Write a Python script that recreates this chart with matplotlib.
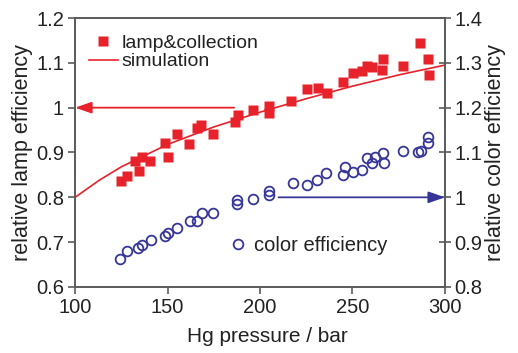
import matplotlib
matplotlib.use("Agg")
from matplotlib import pyplot as plt
from matplotlib.ticker import FuncFormatter

plt.rcParams['font.family'] = ['Liberation Sans', 'DejaVu Sans']

# lamp & collection efficiency (left axis)
lamp_x = [124.7, 127.9, 132.4, 134.8, 136.0, 140.5, 148.6, 150.1, 155.0, 161.8,
          165.8, 168.0, 174.4, 186.5, 188.3, 196.4, 205.0, 205.0, 217.0, 225.4,
          231.5, 236.0, 244.7, 250.5, 255.0, 257.7, 260.4, 265.8, 266.7, 277.1,
          286.5, 290.6, 291.4]
lamp_y = [0.837, 0.848, 0.880, 0.859, 0.891, 0.881, 0.922, 0.891, 0.941, 0.919,
          0.954, 0.962, 0.941, 0.969, 0.984, 0.995, 1.004, 0.989, 1.014, 1.041,
          1.043, 1.032, 1.058, 1.077, 1.081, 1.092, 1.090, 1.084, 1.108, 1.093,
          1.145, 1.108, 1.073]

# simulation curve (left axis)
sim_x = [100, 113, 125, 150, 175, 200, 225, 250, 275, 300]
sim_y = [0.800, 0.838, 0.868, 0.918, 0.957, 0.990, 1.020, 1.048, 1.073, 1.095]

# color efficiency (right axis)
color_x = [124.3, 128.3, 134.2, 136.0, 141.0, 148.6, 150.4, 155.3, 162.2, 165.8,
           168.5, 174.8, 187.4, 187.4, 196.4, 205.0, 205.0, 218.0, 225.2, 231.0,
           235.7, 245.0, 246.0, 250.5, 255.0, 257.7, 260.4, 262.2, 266.6, 267.0,
           277.1, 285.6, 286.9, 291.0, 291.0]
color_y = [0.862, 0.880, 0.886, 0.894, 0.905, 0.914, 0.920, 0.932, 0.947, 0.947,
           0.964, 0.966, 0.984, 0.994, 0.997, 1.013, 1.005, 1.033, 1.028, 1.039,
           1.054, 1.050, 1.067, 1.057, 1.061, 1.087, 1.076, 1.091, 1.098, 1.077,
           1.104, 1.100, 1.104, 1.134, 1.121]

red = '#e8222b'
blue = '#363698'
spine_c = '#5a5a5a'
text_c = '#222222'

fig = plt.figure(figsize=(5.18, 3.53), dpi=100)
ax = fig.add_axes([0.145, 0.187, 0.714, 0.762])
ax2 = ax.twinx()

ax.plot(sim_x, sim_y, '-', color=red, lw=1.2, label='simulation', zorder=2)
ax.plot(lamp_x, lamp_y, 's', color=red, ms=7.5, mec='none',
        label='lamp&collection', zorder=3)
ax2.plot(color_x, color_y, 'o', mfc='none', mec=blue, mew=1.3, ms=7,
         label='color efficiency')

# arrows pointing to the respective axes
ax.annotate('', xy=(100, 1.0), xytext=(186, 1.0),
            arrowprops=dict(arrowstyle='-|>,head_length=1.0,head_width=0.35',
                            color=red, lw=1.3, shrinkA=0, shrinkB=0))
ax2.annotate('', xy=(300, 1.0), xytext=(210, 1.0),
             arrowprops=dict(arrowstyle='-|>,head_length=1.0,head_width=0.35',
                             color=blue, lw=1.3, shrinkA=0, shrinkB=0))

ax.set_xlim(100, 300)
ax.set_ylim(0.6, 1.2)
ax2.set_ylim(0.8, 1.4)
ax.set_xticks([100, 150, 200, 250, 300])
ax.set_yticks([0.6, 0.7, 0.8, 0.9, 1.0, 1.1, 1.2])
ax2.set_yticks([0.8, 0.9, 1.0, 1.1, 1.2, 1.3, 1.4])
fmt = FuncFormatter(lambda v, p: '%g' % round(v, 2))
ax.yaxis.set_major_formatter(fmt)
ax2.yaxis.set_major_formatter(fmt)

for a in (ax, ax2):
    for s in a.spines.values():
        s.set_color(spine_c)
        s.set_linewidth(1.2)
ax.tick_params(axis='both', direction='out', length=5, width=1.2,
               color=spine_c, labelsize=14.5, labelcolor=text_c, pad=3)
ax2.tick_params(axis='y', direction='inout', length=8, width=1.2,
                color=spine_c, labelsize=14.5, labelcolor=text_c, pad=3)

ax.set_xlabel('Hg pressure / bar', fontsize=15, color=text_c)
ax.xaxis.set_label_coords(0.52, -0.15)
ax.set_ylabel('relative lamp efficiency', fontsize=15.5, color=text_c, labelpad=2)
ax2.set_ylabel('relative color efficiency', fontsize=15.5, color=text_c, labelpad=2)

leg = ax.legend(handles=ax.get_lines()[::-1], loc='upper left', frameon=False,
                fontsize=14, handlelength=1.5, handletextpad=0.2,
                labelspacing=0.05, borderaxespad=0.3,
                bbox_to_anchor=(0.0, 0.99))
for t in leg.get_texts():
    t.set_color(text_c)
leg2 = ax2.legend(loc='lower left', bbox_to_anchor=(0.37, 0.05), frameon=False,
                  fontsize=14.5, handlelength=0.8, handletextpad=0.4)
for t in leg2.get_texts():
    t.set_color(text_c)

fig.savefig('out.png', dpi=100)
